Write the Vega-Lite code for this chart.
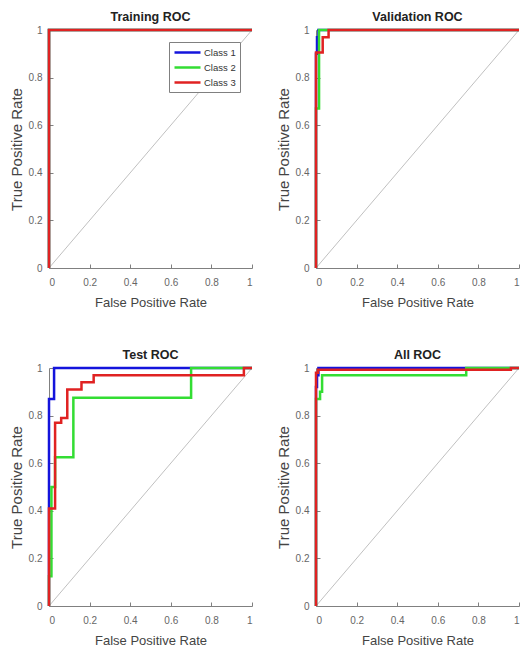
{
  "$schema": "https://vega.github.io/schema/vega-lite/v6.json",
  "padding": {"left": 9, "top": 10, "right": 0, "bottom": 0},
  "background": "white",
  "bounds": "flush",
  "columns": 2,
  "spacing": {"row": 100, "column": 64},
  "datasets": {
    "roc": [
      {"panel": "Training", "cls": "Class 1", "o": 0, "fpr": 0, "tpr": 0},
      {"panel": "Training", "cls": "Class 1", "o": 1, "fpr": 0, "tpr": 1},
      {"panel": "Training", "cls": "Class 1", "o": 2, "fpr": 1, "tpr": 1},
      {"panel": "Training", "cls": "Class 2", "o": 0, "fpr": 0, "tpr": 0},
      {"panel": "Training", "cls": "Class 2", "o": 1, "fpr": 0, "tpr": 1},
      {"panel": "Training", "cls": "Class 2", "o": 2, "fpr": 1, "tpr": 1},
      {"panel": "Training", "cls": "Class 3", "o": 0, "fpr": 0, "tpr": 0},
      {"panel": "Training", "cls": "Class 3", "o": 1, "fpr": 0, "tpr": 1},
      {"panel": "Training", "cls": "Class 3", "o": 2, "fpr": 1, "tpr": 1},

      {"panel": "Validation", "cls": "Class 1", "o": 0, "fpr": 0, "tpr": 0},
      {"panel": "Validation", "cls": "Class 1", "o": 1, "fpr": 0, "tpr": 0.9},
      {"panel": "Validation", "cls": "Class 1", "o": 2, "fpr": 0.005, "tpr": 0.9},
      {"panel": "Validation", "cls": "Class 1", "o": 3, "fpr": 0.005, "tpr": 0.97},
      {"panel": "Validation", "cls": "Class 1", "o": 4, "fpr": 0.012, "tpr": 0.97},
      {"panel": "Validation", "cls": "Class 1", "o": 5, "fpr": 0.012, "tpr": 1},
      {"panel": "Validation", "cls": "Class 1", "o": 6, "fpr": 1, "tpr": 1},
      {"panel": "Validation", "cls": "Class 2", "o": 0, "fpr": 0, "tpr": 0},
      {"panel": "Validation", "cls": "Class 2", "o": 1, "fpr": 0, "tpr": 0.67},
      {"panel": "Validation", "cls": "Class 2", "o": 2, "fpr": 0.015, "tpr": 0.67},
      {"panel": "Validation", "cls": "Class 2", "o": 3, "fpr": 0.015, "tpr": 1},
      {"panel": "Validation", "cls": "Class 2", "o": 4, "fpr": 1, "tpr": 1},
      {"panel": "Validation", "cls": "Class 3", "o": 0, "fpr": 0, "tpr": 0},
      {"panel": "Validation", "cls": "Class 3", "o": 1, "fpr": 0, "tpr": 0.905},
      {"panel": "Validation", "cls": "Class 3", "o": 2, "fpr": 0.033, "tpr": 0.905},
      {"panel": "Validation", "cls": "Class 3", "o": 3, "fpr": 0.033, "tpr": 0.97},
      {"panel": "Validation", "cls": "Class 3", "o": 4, "fpr": 0.062, "tpr": 0.97},
      {"panel": "Validation", "cls": "Class 3", "o": 5, "fpr": 0.062, "tpr": 1},
      {"panel": "Validation", "cls": "Class 3", "o": 6, "fpr": 1, "tpr": 1},

      {"panel": "Test", "cls": "Class 1", "o": 0, "fpr": 0, "tpr": 0},
      {"panel": "Test", "cls": "Class 1", "o": 1, "fpr": 0, "tpr": 0.87},
      {"panel": "Test", "cls": "Class 1", "o": 2, "fpr": 0.025, "tpr": 0.87},
      {"panel": "Test", "cls": "Class 1", "o": 3, "fpr": 0.025, "tpr": 1},
      {"panel": "Test", "cls": "Class 1", "o": 4, "fpr": 1, "tpr": 1},
      {"panel": "Test", "cls": "Class 2", "o": 0, "fpr": 0, "tpr": 0},
      {"panel": "Test", "cls": "Class 2", "o": 1, "fpr": 0, "tpr": 0.125},
      {"panel": "Test", "cls": "Class 2", "o": 2, "fpr": 0.012, "tpr": 0.125},
      {"panel": "Test", "cls": "Class 2", "o": 3, "fpr": 0.012, "tpr": 0.5},
      {"panel": "Test", "cls": "Class 2", "o": 4, "fpr": 0.03, "tpr": 0.5},
      {"panel": "Test", "cls": "Class 2", "o": 5, "fpr": 0.03, "tpr": 0.625},
      {"panel": "Test", "cls": "Class 2", "o": 6, "fpr": 0.12, "tpr": 0.625},
      {"panel": "Test", "cls": "Class 2", "o": 7, "fpr": 0.12, "tpr": 0.875},
      {"panel": "Test", "cls": "Class 2", "o": 8, "fpr": 0.7, "tpr": 0.875},
      {"panel": "Test", "cls": "Class 2", "o": 9, "fpr": 0.7, "tpr": 1},
      {"panel": "Test", "cls": "Class 2", "o": 10, "fpr": 1, "tpr": 1},
      {"panel": "Test", "cls": "Class 3", "o": 0, "fpr": 0, "tpr": 0},
      {"panel": "Test", "cls": "Class 3", "o": 1, "fpr": 0, "tpr": 0.41},
      {"panel": "Test", "cls": "Class 3", "o": 2, "fpr": 0.03, "tpr": 0.41},
      {"panel": "Test", "cls": "Class 3", "o": 3, "fpr": 0.03, "tpr": 0.77},
      {"panel": "Test", "cls": "Class 3", "o": 4, "fpr": 0.06, "tpr": 0.77},
      {"panel": "Test", "cls": "Class 3", "o": 5, "fpr": 0.06, "tpr": 0.79},
      {"panel": "Test", "cls": "Class 3", "o": 6, "fpr": 0.09, "tpr": 0.79},
      {"panel": "Test", "cls": "Class 3", "o": 7, "fpr": 0.09, "tpr": 0.91},
      {"panel": "Test", "cls": "Class 3", "o": 8, "fpr": 0.16, "tpr": 0.91},
      {"panel": "Test", "cls": "Class 3", "o": 9, "fpr": 0.16, "tpr": 0.94},
      {"panel": "Test", "cls": "Class 3", "o": 10, "fpr": 0.22, "tpr": 0.94},
      {"panel": "Test", "cls": "Class 3", "o": 11, "fpr": 0.22, "tpr": 0.97},
      {"panel": "Test", "cls": "Class 3", "o": 12, "fpr": 0.96, "tpr": 0.97},
      {"panel": "Test", "cls": "Class 3", "o": 13, "fpr": 0.96, "tpr": 1},
      {"panel": "Test", "cls": "Class 3", "o": 14, "fpr": 1, "tpr": 1},

      {"panel": "All", "cls": "Class 1", "o": 0, "fpr": 0, "tpr": 0},
      {"panel": "All", "cls": "Class 1", "o": 1, "fpr": 0, "tpr": 0.92},
      {"panel": "All", "cls": "Class 1", "o": 2, "fpr": 0.005, "tpr": 0.92},
      {"panel": "All", "cls": "Class 1", "o": 3, "fpr": 0.005, "tpr": 0.97},
      {"panel": "All", "cls": "Class 1", "o": 4, "fpr": 0.012, "tpr": 0.97},
      {"panel": "All", "cls": "Class 1", "o": 5, "fpr": 0.012, "tpr": 1},
      {"panel": "All", "cls": "Class 1", "o": 6, "fpr": 1, "tpr": 1},
      {"panel": "All", "cls": "Class 2", "o": 0, "fpr": 0, "tpr": 0},
      {"panel": "All", "cls": "Class 2", "o": 1, "fpr": 0, "tpr": 0.87},
      {"panel": "All", "cls": "Class 2", "o": 2, "fpr": 0.02, "tpr": 0.87},
      {"panel": "All", "cls": "Class 2", "o": 3, "fpr": 0.02, "tpr": 0.9},
      {"panel": "All", "cls": "Class 2", "o": 4, "fpr": 0.03, "tpr": 0.9},
      {"panel": "All", "cls": "Class 2", "o": 5, "fpr": 0.03, "tpr": 0.97},
      {"panel": "All", "cls": "Class 2", "o": 6, "fpr": 0.74, "tpr": 0.97},
      {"panel": "All", "cls": "Class 2", "o": 7, "fpr": 0.74, "tpr": 1},
      {"panel": "All", "cls": "Class 2", "o": 8, "fpr": 1, "tpr": 1},
      {"panel": "All", "cls": "Class 3", "o": 0, "fpr": 0, "tpr": 0},
      {"panel": "All", "cls": "Class 3", "o": 1, "fpr": 0, "tpr": 0.98},
      {"panel": "All", "cls": "Class 3", "o": 2, "fpr": 0.01, "tpr": 0.98},
      {"panel": "All", "cls": "Class 3", "o": 3, "fpr": 0.01, "tpr": 0.993},
      {"panel": "All", "cls": "Class 3", "o": 4, "fpr": 0.96, "tpr": 0.993},
      {"panel": "All", "cls": "Class 3", "o": 5, "fpr": 0.96, "tpr": 1},
      {"panel": "All", "cls": "Class 3", "o": 6, "fpr": 1, "tpr": 1}
    ]
  },
  "config": {
    "font": "Liberation Sans",
    "view": {"stroke": null},
    "axis": {
      "grid": false,
      "domainColor": "#808080",
      "tickColor": "#808080",
      "tickSize": -4,
      "labelColor": "#666666",
      "labelFontSize": 10,
      "titleColor": "#444444",
      "titleFontWeight": "normal"
    },
    "axisX": {"titleFontSize": 13, "titleY": 38, "titleBaseline": "alphabetic", "labelPadding": 13},
    "axisY": {"titleFontSize": 15, "titleX": -28, "titleBaseline": "alphabetic", "labelPadding": 11},
    "title": {"fontSize": 12.5, "fontWeight": "bold", "color": "#222222", "frame": "group", "offset": 2},
    "legend": {
      "orient": "none",
      "legendX": 120,
      "legendY": 12,
      "title": null,
      "symbolType": "M-2.6,0H2.6",
      "symbolSize": 100,
      "symbolOffset": 8,
      "symbolStrokeWidth": 2.5,
      "labelFontSize": 9.5,
      "labelColor": "#333333",
      "labelOffset": 10,
      "padding": 4,
      "rowPadding": 3,
      "strokeColor": "#808080",
      "fillColor": "white"
    }
  },
  "concat": [
    {
      "title": "Training ROC",
      "width": 203,
      "height": 238,
      "layer": [
        {"data": {"values": [{}]}, "mark": {"type": "rule", "color": "#c0c0c0", "strokeWidth": 1},
         "encoding": {"x": {"datum": 0, "type": "quantitative", "scale": {"domain": [0, 1], "nice": false}}, "y": {"datum": 0, "type": "quantitative", "scale": {"domain": [0, 1], "nice": false}}, "x2": {"datum": 1}, "y2": {"datum": 1}}},
        {"data": {"name": "roc"}, "transform": [{"filter": "datum.panel === 'Training'"}],
         "mark": {"type": "line", "strokeWidth": 2.5},
         "encoding": {
           "x": {"field": "fpr", "type": "quantitative", "scale": {"domain": [0, 1], "nice": false}, "axis": {"title": "False Positive Rate", "values": [0, 0.2, 0.4, 0.6, 0.8, 1], "format": "~g"}},
           "y": {"field": "tpr", "type": "quantitative", "scale": {"domain": [0, 1], "nice": false}, "axis": {"title": "True Positive Rate", "values": [0, 0.2, 0.4, 0.6, 0.8, 1], "format": "~g"}},
           "color": {"field": "cls", "type": "nominal", "scale": {"domain": ["Class 1", "Class 2", "Class 3"], "range": ["#1414dc", "#33dd33", "#e02222"]}},
           "order": {"field": "o", "type": "quantitative"}
         }}
      ]
    },
    {
      "title": "Validation ROC",
      "width": 203,
      "height": 238,
      "layer": [
        {"data": {"values": [{}]}, "mark": {"type": "rule", "color": "#c0c0c0", "strokeWidth": 1},
         "encoding": {"x": {"datum": 0, "type": "quantitative", "scale": {"domain": [0, 1], "nice": false}}, "y": {"datum": 0, "type": "quantitative", "scale": {"domain": [0, 1], "nice": false}}, "x2": {"datum": 1}, "y2": {"datum": 1}}},
        {"data": {"name": "roc"}, "transform": [{"filter": "datum.panel === 'Validation'"}],
         "mark": {"type": "line", "strokeWidth": 2.5},
         "encoding": {
           "x": {"field": "fpr", "type": "quantitative", "scale": {"domain": [0, 1], "nice": false}, "axis": {"title": "False Positive Rate", "values": [0, 0.2, 0.4, 0.6, 0.8, 1], "format": "~g"}},
           "y": {"field": "tpr", "type": "quantitative", "scale": {"domain": [0, 1], "nice": false}, "axis": {"title": "True Positive Rate", "values": [0, 0.2, 0.4, 0.6, 0.8, 1], "format": "~g"}},
           "color": {"field": "cls", "type": "nominal", "scale": {"domain": ["Class 1", "Class 2", "Class 3"], "range": ["#1414dc", "#33dd33", "#e02222"]}},
           "order": {"field": "o", "type": "quantitative"}
         }}
      ]
    },
    {
      "title": "Test ROC",
      "width": 203,
      "height": 238,
      "layer": [
        {"data": {"values": [{}]}, "mark": {"type": "rule", "color": "#c0c0c0", "strokeWidth": 1},
         "encoding": {"x": {"datum": 0, "type": "quantitative", "scale": {"domain": [0, 1], "nice": false}}, "y": {"datum": 0, "type": "quantitative", "scale": {"domain": [0, 1], "nice": false}}, "x2": {"datum": 1}, "y2": {"datum": 1}}},
        {"data": {"name": "roc"}, "transform": [{"filter": "datum.panel === 'Test'"}],
         "mark": {"type": "line", "strokeWidth": 2.5},
         "encoding": {
           "x": {"field": "fpr", "type": "quantitative", "scale": {"domain": [0, 1], "nice": false}, "axis": {"title": "False Positive Rate", "values": [0, 0.2, 0.4, 0.6, 0.8, 1], "format": "~g"}},
           "y": {"field": "tpr", "type": "quantitative", "scale": {"domain": [0, 1], "nice": false}, "axis": {"title": "True Positive Rate", "values": [0, 0.2, 0.4, 0.6, 0.8, 1], "format": "~g"}},
           "color": {"field": "cls", "type": "nominal", "scale": {"domain": ["Class 1", "Class 2", "Class 3"], "range": ["#1414dc", "#33dd33", "#e02222"]}},
           "order": {"field": "o", "type": "quantitative"}
         }}
      ]
    },
    {
      "title": "All ROC",
      "width": 203,
      "height": 238,
      "layer": [
        {"data": {"values": [{}]}, "mark": {"type": "rule", "color": "#c0c0c0", "strokeWidth": 1},
         "encoding": {"x": {"datum": 0, "type": "quantitative", "scale": {"domain": [0, 1], "nice": false}}, "y": {"datum": 0, "type": "quantitative", "scale": {"domain": [0, 1], "nice": false}}, "x2": {"datum": 1}, "y2": {"datum": 1}}},
        {"data": {"name": "roc"}, "transform": [{"filter": "datum.panel === 'All'"}],
         "mark": {"type": "line", "strokeWidth": 2.5},
         "encoding": {
           "x": {"field": "fpr", "type": "quantitative", "scale": {"domain": [0, 1], "nice": false}, "axis": {"title": "False Positive Rate", "values": [0, 0.2, 0.4, 0.6, 0.8, 1], "format": "~g"}},
           "y": {"field": "tpr", "type": "quantitative", "scale": {"domain": [0, 1], "nice": false}, "axis": {"title": "True Positive Rate", "values": [0, 0.2, 0.4, 0.6, 0.8, 1], "format": "~g"}},
           "color": {"field": "cls", "type": "nominal", "scale": {"domain": ["Class 1", "Class 2", "Class 3"], "range": ["#1414dc", "#33dd33", "#e02222"]}},
           "order": {"field": "o", "type": "quantitative"}
         }}
      ]
    }
  ]
}
